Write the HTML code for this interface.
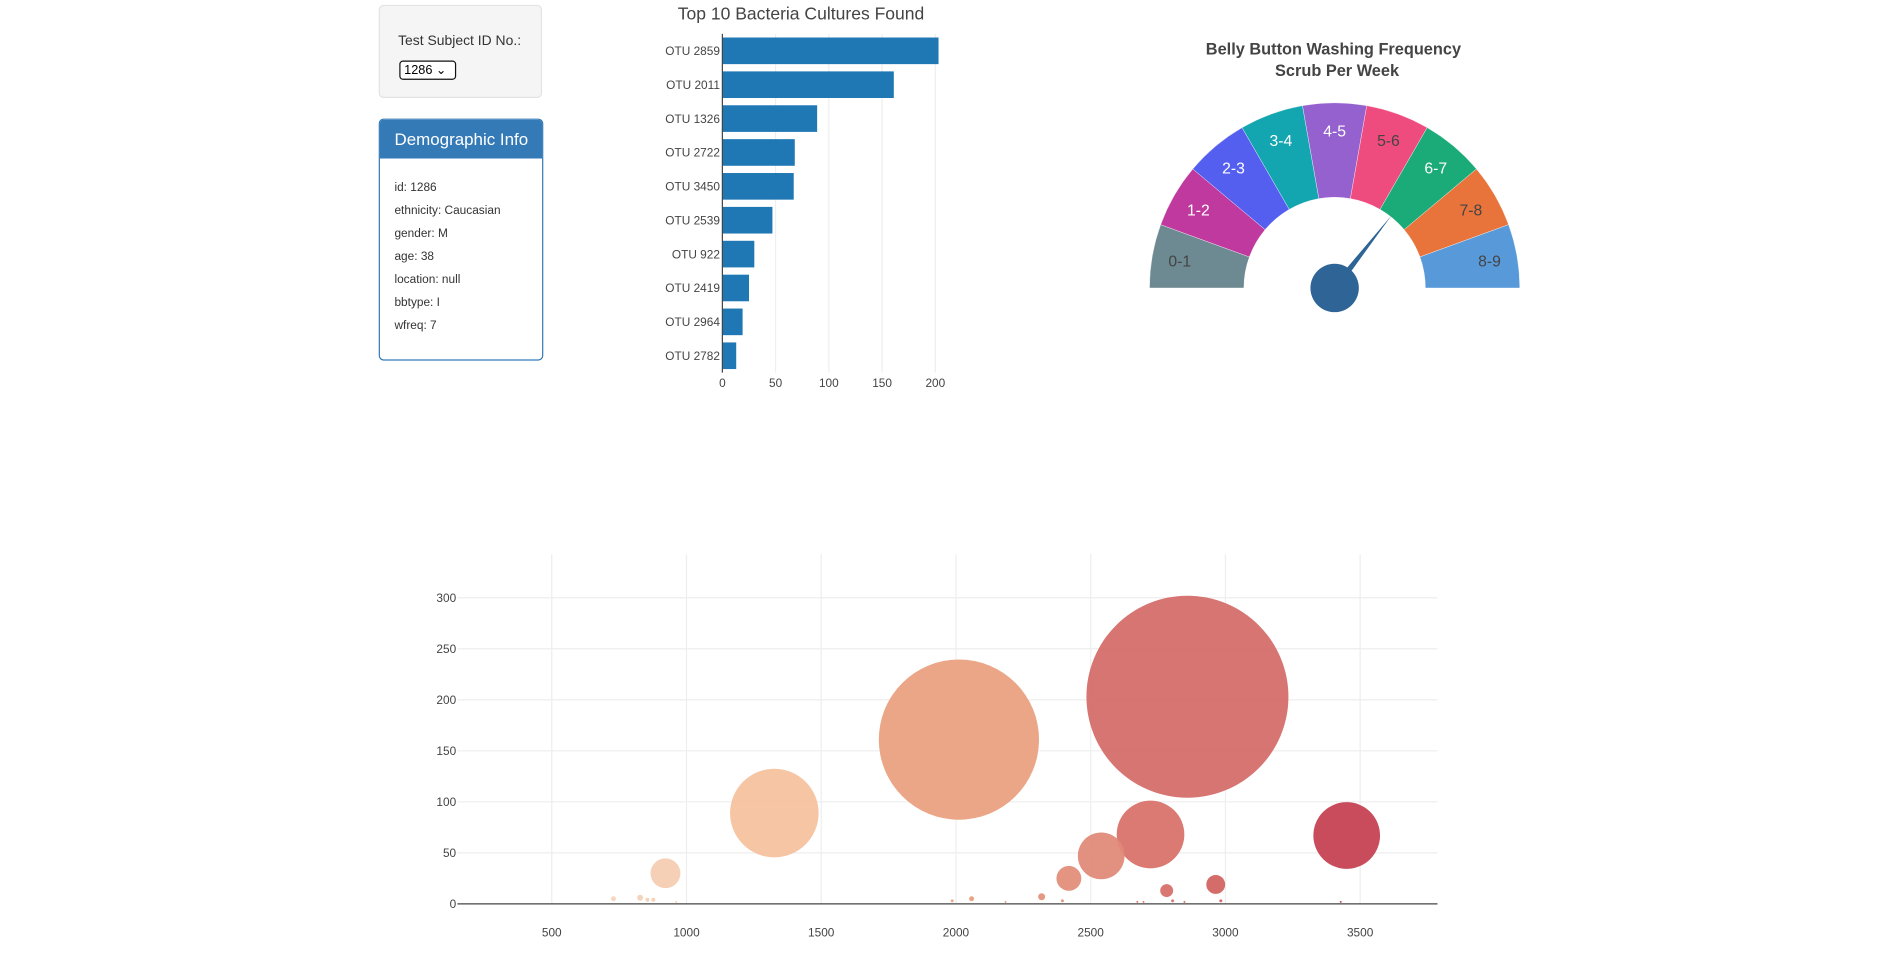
<!DOCTYPE html>
<html><head><meta charset="utf-8"><style>
html,body{margin:0;padding:0;background:#fff;width:1897px;height:966px;overflow:hidden;font-family:"Liberation Sans",sans-serif}
#wrap{position:absolute;left:0;top:0;width:1568px;height:800px;transform:scale(1.2100);transform-origin:0 0}
.well{position:absolute;left:313px;top:4px;width:133px;height:75px;background:#f5f5f5;border:1px solid #e3e3e3;border-radius:4px}
.well label{position:absolute;left:15px;top:23px;font-size:11.5px;color:#333}
.sel{position:absolute;left:16px;top:45px;width:42px;height:14px;border:1.5px solid #111;border-radius:3px;background:#fff;font-size:10.5px;line-height:14px;padding-left:3px;box-sizing:content-box}
.panel{position:absolute;left:313px;top:98px;width:134px;height:198px;border:1px solid #337ab7;border-radius:4px;overflow:hidden}
.panel .hd{background:#337ab7;color:#fff;height:32px;font-size:14px;line-height:32px;padding-left:12px}
.panel .bd{padding:13px 0 0 12px;font-size:9.8px;color:#333}
.panel .bd div{height:19px;line-height:24px}
svg text{font-family:"Liberation Sans",sans-serif}
</style></head><body>
<div id="wrap">
<div class="well">
<label>Test Subject ID No.:</label>
<div class="sel">1286 &#8964;</div>
</div>
<div class="panel">
<div class="hd">Demographic Info</div>
<div class="bd">
<div>id: 1286</div><div>ethnicity: Caucasian</div><div>gender: M</div><div>age: 38</div><div>location: null</div><div>bbtype: I</div><div>wfreq: 7</div>
</div></div>
<svg id="svg" width="1568" height="800" style="position:absolute;left:0;top:0"></svg>
</div>
<script>
const barLabels=["OTU 2859","OTU 2011","OTU 1326","OTU 2722","OTU 3450","OTU 2539","OTU 922","OTU 2419","OTU 2964","OTU 2782"];
const barValues=[203,161,89,68,67,47,30,25,19,13];
const barTicks=[0,50,100,150,200];
const gaugeLabels=["0-1","1-2","2-3","3-4","4-5","5-6","6-7","7-8","8-9"];
const wfreq=7;
const bubbleIds=[2859,2011,1326,2722,3450,2539,922,2419,2964,2782,729,828,855,877,962,1986,2058,2184,2318,2395,2673,2696,2804,2848,2983,3428];
const bubbleValues=[203,161,89,68,67,47,30,25,19,13,5,6,4,4,2,3,5,2,7,3,2,2,3,2,3,2];
const bubbleXTicks=[500,1000,1500,2000,2500,3000,3500];
const bubbleYTicks=[0,50,100,150,200,250,300];

const NS="http://www.w3.org/2000/svg";
const svg=document.getElementById('svg');
function mk(tag,attrs,parent){const e=document.createElementNS(NS,tag);for(const k in attrs)e.setAttribute(k,attrs[k]);(parent||svg).appendChild(e);return e;}
function txt(s,attrs){const t=mk('text',attrs);t.textContent=s;return t;}

// ---------- bar chart ----------
const bx=v=>597+v*0.88, byc=i=>42+i*28;
const t1=txt("Top 10 Bacteria Cultures Found",{x:662,y:16,'text-anchor':'middle','font-size':14.5,fill:'#444'});


barTicks.forEach(v=>{
  if(v>0){const g=mk('line',{x1:bx(v),x2:bx(v),y1:28,y2:308,stroke:'#eee'});
  
  }
  const t=txt(String(v),{x:bx(v),y:320,'text-anchor':'middle','font-size':9.8,fill:'#444'});
  
  
});
barValues.forEach((v,i)=>{
  const r=mk('rect',{x:bx(0),y:byc(i)-11,width:bx(v)-bx(0),height:22,fill:'#1f77b4'});
  
  
  const t=txt(barLabels[i],{x:595,y:byc(i)+3.5,'text-anchor':'end','font-size':9.8,fill:'#444'});
  
  
});
const ax=mk('line',{x1:597,x2:597,y1:28,y2:308,stroke:'#444','stroke-width':1});



// ---------- gauge ----------
const gcx=1103,gcy=238,R=153,r0=75;
const gColors=["#6d8992","#c0399f","#545ff0","#13a6b0","#9461cf","#ee4c7f","#1bab79","#e8743b","#5899da"];
const gTextCol=["#444","#fff","#fff","#fff","#fff","#444","#fff","#444","#444"];
let gt=txt("Belly Button Washing Frequency",{x:gcx-1,y:45,'text-anchor':'middle','font-size':13.5,'font-weight':'bold',fill:'#444'});


gt=txt("Scrub Per Week",{x:gcx+2,y:63,'text-anchor':'middle','font-size':13.5,'font-weight':'bold',fill:'#444'});


const P=(rad,deg)=>[gcx+rad*Math.cos(deg*Math.PI/180),gcy-rad*Math.sin(deg*Math.PI/180)];
gaugeLabels.forEach((lab,i)=>{
  const a0=180-i*20,a1=180-(i+1)*20;
  const [x0,y0]=P(R,a0),[x1,y1]=P(R,a1),[x2,y2]=P(r0,a1),[x3,y3]=P(r0,a0);
  const p=mk('path',{d:`M${x0},${y0} A${R},${R} 0 0 1 ${x1},${y1} L${x2},${y2} A${r0},${r0} 0 0 0 ${x3},${y3} Z`,fill:gColors[i],stroke:'#fff','stroke-width':0.3});
  
  
  const [lx,ly]=P(130,(a0+a1)/2);
  const t=txt(lab,{x:lx,y:ly+5,'text-anchor':'middle','font-size':13,fill:gTextCol[i]});
  
  
});
const na=180-wfreq*18.3;
const [tx,ty]=P(76,na),[b1x,b1y]=P(3,na+90),[b2x,b2y]=P(3,na-90);
const nd=mk('path',{d:`M${b1x},${b1y} L${tx},${ty} L${b2x},${b2y} Z`,fill:'#2e6496'});


const kn=mk('circle',{cx:gcx,cy:gcy,r:20,fill:'#2e6496'});



// ---------- bubble chart ----------
const px=v=>456+(v-500)*0.2227, py=v=>747-v*0.8433;
bubbleXTicks.forEach(v=>{
  const g=mk('line',{x1:px(v),x2:px(v),y1:458,y2:747,stroke:'#eee'});
  
  
  const t=txt(String(v),{x:px(v),y:774,'text-anchor':'middle','font-size':9.8,fill:'#444'});
  
  
});
bubbleYTicks.forEach(v=>{
  if(v>0){const g=mk('line',{x1:378,x2:1188,y1:py(v),y2:py(v),stroke:'#eee'});
  
  }
  const t=txt(String(v),{x:377,y:py(v)+3.5,'text-anchor':'end','font-size':9.8,fill:'#444'});
  
  
});
const stops=[[700,[246,213,189]],[1326,[246,194,159]],[2011,[233,161,127]],[2539,[224,138,120]],[2722,[216,115,108]],[2859,[213,110,106]],[3000,[209,96,94]],[3450,[197,66,83]]];
function col(id){
  if(id<=stops[0][0])return stops[0][1];
  for(let i=1;i<stops.length;i++){if(id<=stops[i][0]){const [a,ca]=stops[i-1],[b,cb]=stops[i];const f=(id-a)/(b-a);return ca.map((c,k)=>Math.round(c+(cb[k]-c)*f));}}
  return stops[stops.length-1][1];
}
bubbleIds.forEach((id,i)=>{
  const c=col(id);
  const b=mk('circle',{cx:px(id),cy:py(bubbleValues[i]),r:Math.max(bubbleValues[i]/1.216/2,0.8),fill:`rgb(${c[0]},${c[1]},${c[2]})`,'fill-opacity':0.95});
  
  
});
const zl=mk('line',{x1:378,x2:1188,y1:747,y2:747,stroke:'#444','stroke-width':1});


</script>
</body></html>
